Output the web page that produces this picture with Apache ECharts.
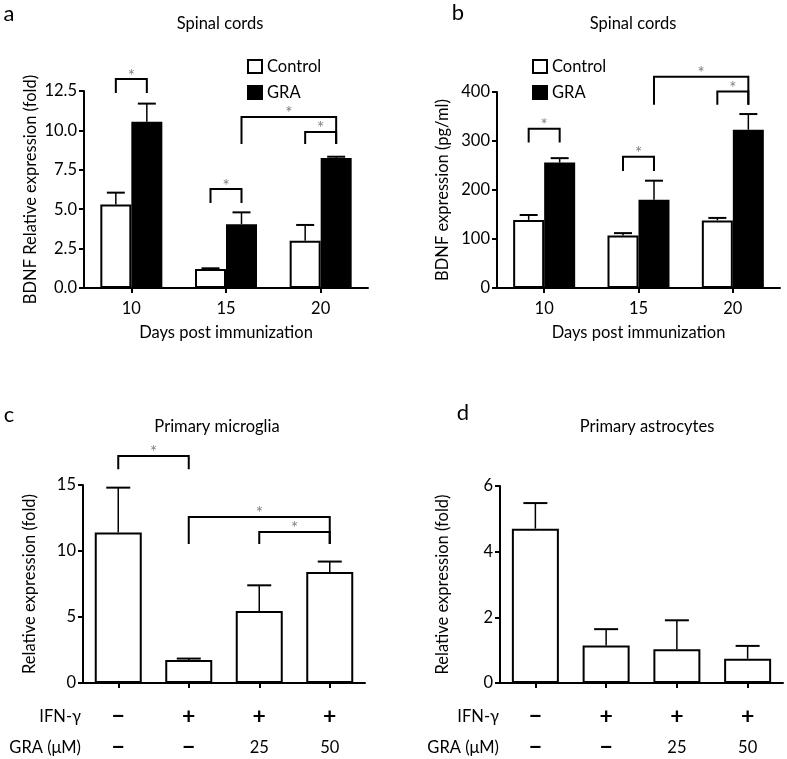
<!DOCTYPE html>
<html><head><meta charset="utf-8">
<script src="https://cdn.jsdelivr.net/npm/echarts@6/dist/echarts.min.js"></script>
<style>html,body{margin:0;padding:0;background:#fff}#c{width:787px;height:759px}</style>
</head><body><div id="c"></div>
<script>
// ---- data ----
const daysCats = ['10', '15', '20'];
const ctrlA = [5.3, 1.2, 3.0];
const ctrlASem = [0.75, 0.05, 1.0];
const graA = [10.55, 4.05, 8.25];
const graASem = [1.15, 0.75, 0.08];

const ctrlB = [139, 107, 138];
const ctrlBSem = [10, 5, 5];
const graB = [256, 180, 323];
const graBSem = [9, 39, 32];

const condCats = ['c1', 'c2', 'c3', 'c4'];
const ifnRow = ['−', '+', '+', '+'];
const graRow = ['−', '−', '25', '50'];
const microglia = [11.4, 1.75, 5.45, 8.4];
const microgliaSem = [3.4, 0.1, 1.95, 0.8];
const astro = [4.7, 1.14, 1.03, 0.74];
const astroSem = [0.78, 0.5, 0.88, 0.39];

// significance brackets: [fromCat, fromSide, toCat, toSide, topValue, legValue]
const sigA = [[0, -1, 0, 1, 13.26, 12.37], [1, -1, 1, 1, 6.28, 5.39], [1, 1, 2, 1, 10.85, 9.14], [2, -1, 2, 1, 9.9, 9.14]];
const sigB = [[0, -1, 0, 1, 325, 297], [1, -1, 1, 1, 268, 239], [1, 1, 2, 1, 431, 374], [2, -1, 2, 1, 401, 374]];
const sigC = [[0, 0, 1, 0, 17.2, 16.2], [1, 0, 3, 0, 12.58, 10.53], [2, 0, 3, 0, 11.44, 10.53]];

// ---- style ----
const FONT = 'Lato';
const FS = 16.5;
const BW2 = 31;   // grouped bar width
const BW1 = 47;   // single bar width

const chart = echarts.init(document.getElementById('c'), null, {renderer: 'canvas'});

function errSeries(xi, vals, sems, offset, capHalf) {
  return {
    type: 'custom', xAxisIndex: xi, yAxisIndex: xi, silent: true, z: 5,
    data: vals.map((v, i) => [i, v, v + sems[i]]),
    encode: {x: 0, y: 1},
    renderItem: (params, api) => {
      const p0 = api.coord([api.value(0), api.value(1)]);
      const p1 = api.coord([api.value(0), api.value(2)]);
      const x = p0[0] + offset;
      return {type: 'group', children: [
        {type: 'line', shape: {x1: x, y1: p0[1], x2: x, y2: p1[1]}, style: {stroke: '#000', lineWidth: 1.5}},
        {type: 'line', shape: {x1: x - capHalf, y1: p1[1], x2: x + capHalf, y2: p1[1]}, style: {stroke: '#000', lineWidth: 2}}
      ]};
    }
  };
}

function sigSeries(xi, sig, sideOffset) {
  return {
    type: 'custom', xAxisIndex: xi, yAxisIndex: xi, silent: true, z: 6, clip: false,
    data: sig,
    encode: {x: 0, y: 4},
    renderItem: (params, api) => {
      const a = api.coord([api.value(0), api.value(4)]);
      const b = api.coord([api.value(2), api.value(4)]);
      const leg = api.coord([api.value(0), api.value(5)]);
      const x1 = a[0] + api.value(1) * sideOffset;
      const x2 = b[0] + api.value(3) * sideOffset;
      const yt = a[1], yl = leg[1];
      return {type: 'group', children: [
        {type: 'polyline', shape: {points: [[x1, yl], [x1, yt], [x2, yt], [x2, yl]]}, style: {stroke: '#000', lineWidth: 2, fill: null}},
        {type: 'text', style: {text: '*', x: (x1 + x2) / 2, y: yt - 3, textAlign: 'center', textVerticalAlign: 'middle', fontSize: 17, fontFamily: FONT, fill: '#808080'}}
      ]};
    }
  };
}

const axisLine = {show: true, lineStyle: {color: '#000', width: 2}};
const tickY = {show: true, inside: false, length: 5, lineStyle: {color: '#000', width: 2}};
const tickX = {show: true, alignWithLabel: true, length: 5, lineStyle: {color: '#000', width: 2}};
const lab = {color: '#000', fontFamily: FONT, fontSize: FS};
const nameStyle = {color: '#000', fontFamily: FONT, fontSize: FS};

function condLabel(idx) {
  const top = '{s|' + ifnRow[idx] + '}';
  const g = graRow[idx];
  const bot = /\d/.test(g) ? '{n|' + g + '}' : '{s|' + g + '}';
  return top + '\n' + bot;
}
const condRich = {
  s: {fontSize: 23, fontWeight: 'bold', fontFamily: FONT, color: '#000', lineHeight: 31},
  n: {fontSize: FS, fontFamily: FONT, color: '#000', lineHeight: 31}
};
const legendText = {fontSize: FS, fontFamily: FONT, color: '#000'};

const option = {
  animation: false,
  backgroundColor: '#fff',
  textStyle: {fontFamily: FONT},
  grid: [
    {left: 84, right: 419, top: 91, bottom: 471},
    {left: 497, right: 7, top: 92, bottom: 471},
    {left: 83, right: 422, top: 485, bottom: 76},
    {left: 500, right: 4, top: 486, bottom: 75}
  ],
  legend: [
    {data: ['Control', 'GRA'], orient: 'vertical', left: 242, top: 53, itemWidth: 14, itemHeight: 13, itemGap: 9, icon: 'rect', textStyle: legendText, selectedMode: false},
    {data: ['Control', 'GRA'], orient: 'vertical', left: 527, top: 53, itemWidth: 14, itemHeight: 13, itemGap: 9, icon: 'rect', textStyle: legendText, selectedMode: false}
  ],
  xAxis: [
    {gridIndex: 0, type: 'category', data: daysCats, axisLine, axisTick: tickX, axisLabel: Object.assign({margin: 12}, lab), name: 'Days post immunization', nameLocation: 'middle', nameGap: 36, nameTextStyle: nameStyle},
    {gridIndex: 1, type: 'category', data: daysCats, axisLine, axisTick: tickX, axisLabel: Object.assign({margin: 12}, lab), name: 'Days post immunization', nameLocation: 'middle', nameGap: 36, nameTextStyle: nameStyle},
    {gridIndex: 2, type: 'category', data: condCats, axisLine, axisTick: tickX, axisLabel: {margin: 18, formatter: (v, i) => condLabel(i), rich: condRich}},
    {gridIndex: 3, type: 'category', data: condCats, axisLine, axisTick: tickX, axisLabel: {margin: 18, formatter: (v, i) => condLabel(i), rich: condRich}}
  ],
  yAxis: [
    {gridIndex: 0, type: 'value', min: 0, max: 12.5, interval: 2.5, axisLine, axisTick: tickY, splitLine: {show: false}, axisLabel: Object.assign({margin: 7, formatter: v => v.toFixed(1)}, lab), name: 'BDNF Relative expression (fold)', nameLocation: 'middle', nameGap: 45, nameTextStyle: nameStyle},
    {gridIndex: 1, type: 'value', min: 0, max: 400, interval: 100, axisLine, axisTick: tickY, splitLine: {show: false}, axisLabel: Object.assign({margin: 7}, lab), name: 'BDNF expression (pg/ml)', nameLocation: 'middle', nameGap: 46, nameTextStyle: nameStyle},
    {gridIndex: 2, type: 'value', min: 0, max: 15, interval: 5, axisLine, axisTick: tickY, splitLine: {show: false}, axisLabel: Object.assign({margin: 7}, lab), name: 'Relative expression (fold)', nameLocation: 'middle', nameGap: 45, nameTextStyle: nameStyle},
    {gridIndex: 3, type: 'value', min: 0, max: 6, interval: 2, axisLine, axisTick: tickY, splitLine: {show: false}, axisLabel: Object.assign({margin: 7}, lab), name: 'Relative expression (fold)', nameLocation: 'middle', nameGap: 49, nameTextStyle: nameStyle}
  ],
  series: [
    {name: 'Control', type: 'bar', xAxisIndex: 0, yAxisIndex: 0, data: ctrlA, barWidth: BW2, barGap: '0%', itemStyle: {color: '#fff', borderColor: '#000', borderWidth: 2}},
    {name: 'GRA', type: 'bar', xAxisIndex: 0, yAxisIndex: 0, data: graA, barWidth: BW2, barGap: '0%', itemStyle: {color: '#000', borderColor: '#000', borderWidth: 2}},
    errSeries(0, ctrlA, ctrlASem, -BW2 / 2, 9),
    errSeries(0, graA, graASem, BW2 / 2, 9),
    sigSeries(0, sigA, BW2 / 2),

    {name: 'Control', type: 'bar', xAxisIndex: 1, yAxisIndex: 1, data: ctrlB, barWidth: BW2, barGap: '0%', itemStyle: {color: '#fff', borderColor: '#000', borderWidth: 2}},
    {name: 'GRA', type: 'bar', xAxisIndex: 1, yAxisIndex: 1, data: graB, barWidth: BW2, barGap: '0%', itemStyle: {color: '#000', borderColor: '#000', borderWidth: 2}},
    errSeries(1, ctrlB, ctrlBSem, -BW2 / 2, 9),
    errSeries(1, graB, graBSem, BW2 / 2, 9),
    sigSeries(1, sigB, BW2 / 2),

    {name: 'Microglia', type: 'bar', xAxisIndex: 2, yAxisIndex: 2, data: microglia, barWidth: BW1, itemStyle: {color: '#fff', borderColor: '#000', borderWidth: 2}},
    errSeries(2, microglia, microgliaSem, 0, 12),
    sigSeries(2, sigC, 0),

    {name: 'Astrocytes', type: 'bar', xAxisIndex: 3, yAxisIndex: 3, data: astro, barWidth: BW1, itemStyle: {color: '#fff', borderColor: '#000', borderWidth: 2}},
    errSeries(3, astro, astroSem, 0, 12)
  ],
  graphic: [
    {type: 'text', style: {text: 'a', x: 9, y: 14, textAlign: 'center', textVerticalAlign: 'middle', fontSize: 22, fontFamily: FONT, fill: '#000'}},
    {type: 'text', style: {text: 'b', x: 458, y: 13, textAlign: 'center', textVerticalAlign: 'middle', fontSize: 22, fontFamily: FONT, fill: '#000'}},
    {type: 'text', style: {text: 'c', x: 9, y: 415, textAlign: 'center', textVerticalAlign: 'middle', fontSize: 22, fontFamily: FONT, fill: '#000'}},
    {type: 'text', style: {text: 'd', x: 463, y: 413, textAlign: 'center', textVerticalAlign: 'middle', fontSize: 22, fontFamily: FONT, fill: '#000'}},
    {type: 'text', style: {text: 'Spinal cords', x: 220, y: 24, textAlign: 'center', textVerticalAlign: 'middle', fontSize: 16.5, fontFamily: FONT, fill: '#000'}},
    {type: 'text', style: {text: 'Spinal cords', x: 633, y: 24, textAlign: 'center', textVerticalAlign: 'middle', fontSize: 16.5, fontFamily: FONT, fill: '#000'}},
    {type: 'text', style: {text: 'Primary microglia', x: 217, y: 427, textAlign: 'center', textVerticalAlign: 'middle', fontSize: 16.5, fontFamily: FONT, fill: '#000'}},
    {type: 'text', style: {text: 'Primary astrocytes', x: 647, y: 427, textAlign: 'center', textVerticalAlign: 'middle', fontSize: 16.5, fontFamily: FONT, fill: '#000'}},
    {type: 'text', style: {text: 'IFN-γ', x: 81, y: 717, textAlign: 'right', textVerticalAlign: 'middle', fontSize: FS, fontFamily: FONT, fill: '#000'}},
    {type: 'text', style: {text: 'GRA (μM)', x: 81, y: 748, textAlign: 'right', textVerticalAlign: 'middle', fontSize: FS, fontFamily: FONT, fill: '#000'}},
    {type: 'text', style: {text: 'IFN-γ', x: 499, y: 717, textAlign: 'right', textVerticalAlign: 'middle', fontSize: FS, fontFamily: FONT, fill: '#000'}},
    {type: 'text', style: {text: 'GRA (μM)', x: 499, y: 748, textAlign: 'right', textVerticalAlign: 'middle', fontSize: FS, fontFamily: FONT, fill: '#000'}}
  ]
};
chart.setOption(option);
</script></body></html>
